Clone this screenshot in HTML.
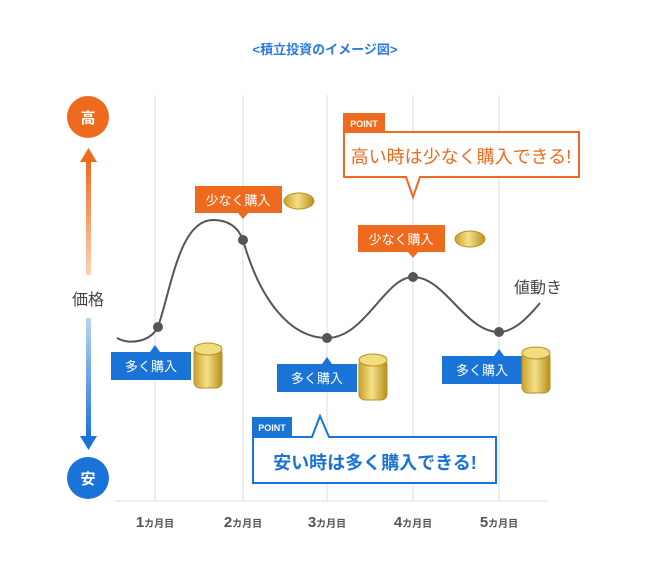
<!DOCTYPE html><html><head><meta charset="utf-8"><style>body{margin:0;background:#fff}svg{display:block}text{font-family:"Liberation Sans","Noto Sans CJK JP",sans-serif}</style></head><body>
<svg width="650" height="564" viewBox="0 0 650 564">
<defs>
<linearGradient id="go" x1="0" y1="0" x2="0" y2="1"><stop offset="0" stop-color="#ee6a1e"/><stop offset="1" stop-color="#fbd3b5"/></linearGradient>
<linearGradient id="gb" x1="0" y1="0" x2="0" y2="1"><stop offset="0" stop-color="#b7d6f5"/><stop offset="1" stop-color="#1a73d6"/></linearGradient>
<linearGradient id="gc" x1="0" y1="0" x2="1" y2="0"><stop offset="0" stop-color="#c9a227"/><stop offset=".45" stop-color="#f4e08a"/><stop offset="1" stop-color="#b8901c"/></linearGradient>
</defs>
<text x="325" y="54" font-size="13" font-weight="bold" fill="#2a7be0" text-anchor="middle">&lt;積立投資のイメージ図&gt;</text>
<g stroke="#e3e3e3" stroke-width="1.2">
<line x1="155" y1="95" x2="155" y2="501"/><line x1="243" y1="95" x2="243" y2="501"/><line x1="327" y1="95" x2="327" y2="501"/><line x1="413" y1="95" x2="413" y2="501"/><line x1="499" y1="95" x2="499" y2="501"/>
<line x1="115" y1="501" x2="548" y2="501"/></g>
<circle cx="88" cy="117" r="21" fill="#ee6a1e"/><text x="88" y="123" font-size="15" fill="#fff" text-anchor="middle" font-weight="bold">高</text>
<rect x="86" y="160" width="5" height="115" fill="url(#go)"/><polygon points="80,162 97,162 88.5,148" fill="#ee6a1e"/>
<text x="88" y="305" font-size="16" fill="#444" text-anchor="middle">価格</text>
<rect x="86" y="318" width="5" height="120" fill="url(#gb)"/><polygon points="80,436 97,436 88.5,450" fill="#1a73d6"/>
<circle cx="88" cy="478" r="21" fill="#1a73d6"/><text x="88" y="484" font-size="15" fill="#fff" text-anchor="middle" font-weight="bold">安</text>
<path d="M117,338 C130,345 150,342 158,327 C172,285 180,220 213,220 C233,220 240,232 243,240 C260,300 290,338 327,338 C365,338 385,277 413,277 C445,277 465,332 499,332 C515,332 530,315 540,303" fill="none" stroke="#555" stroke-width="2"/>
<g fill="#555"><circle cx="158" cy="327" r="5"/><circle cx="243" cy="240" r="5"/><circle cx="327" cy="338" r="5"/><circle cx="413" cy="277" r="5"/><circle cx="499" cy="332" r="5"/></g>
<text x="538" y="293" font-size="16" fill="#444" text-anchor="middle">値動き</text>
<rect x="195" y="186" width="87" height="27" fill="#ee6a1e"/><polygon points="238,213 248,213 243,219" fill="#ee6a1e"/>
<text x="238" y="205" font-size="13" fill="#fff" text-anchor="middle">少なく購入</text>
<ellipse cx="299" cy="201" rx="15" ry="8" fill="url(#gc)" stroke="#b8901c"/>
<rect x="358" y="225" width="87" height="27" fill="#ee6a1e"/><polygon points="408,252 418,252 413,258" fill="#ee6a1e"/>
<text x="401" y="244" font-size="13" fill="#fff" text-anchor="middle">少なく購入</text>
<ellipse cx="470" cy="239" rx="15" ry="8" fill="url(#gc)" stroke="#b8901c"/>
<g fill="#1a73d6">
<rect x="111" y="352" width="80" height="28"/><polygon points="150,352 160,352 155,345"/>
<rect x="277" y="364" width="80" height="28"/><polygon points="322,364 332,364 327,357"/>
<rect x="442" y="356" width="80" height="28"/><polygon points="494,356 504,356 499,349"/></g>
<g font-size="13" fill="#fff" text-anchor="middle"><text x="151" y="371">多く購入</text><text x="317" y="383">多く購入</text><text x="482" y="375">多く購入</text></g>
<g stroke="#b8901c" stroke-width="1">
<rect x="194" y="348" width="28" height="40" rx="6" fill="url(#gc)"/><ellipse cx="208" cy="349" rx="14" ry="6" fill="#f2dc80"/>
<rect x="359" y="359" width="28" height="41" rx="6" fill="url(#gc)"/><ellipse cx="373" cy="360" rx="14" ry="6" fill="#f2dc80"/>
<rect x="522" y="352" width="28" height="41" rx="6" fill="url(#gc)"/><ellipse cx="536" cy="353" rx="14" ry="6" fill="#f2dc80"/></g>
<rect x="343" y="113" width="42" height="19" fill="#ee6a1e"/><text x="364" y="127" font-size="9" font-weight="bold" fill="#fff" text-anchor="middle">POINT</text>
<path d="M344,132 H579 V177 H420 L413,197 L406,177 H344 Z" fill="#fff" stroke="#ee6a1e" stroke-width="2"/>
<text x="461" y="163" font-size="18" fill="#ee6a1e" text-anchor="middle">高い時は少なく購入できる!</text>
<rect x="252" y="417" width="40" height="19" fill="#1a73d6"/><text x="272" y="431" font-size="9" font-weight="bold" fill="#fff" text-anchor="middle">POINT</text>
<path d="M253,437 H312 L320,416 L329,437 H496 V483 H253 Z" fill="#fff" stroke="#1a73d6" stroke-width="2"/>
<text x="375" y="469" font-size="18" font-weight="bold" fill="#1a73d6" text-anchor="middle">安い時は多く購入できる!</text>
<g fill="#555" font-weight="bold" text-anchor="middle">
<text x="155" y="527"><tspan font-size="15">1</tspan><tspan font-size="10">カ月目</tspan></text>
<text x="243" y="527"><tspan font-size="15">2</tspan><tspan font-size="10">カ月目</tspan></text>
<text x="327" y="527"><tspan font-size="15">3</tspan><tspan font-size="10">カ月目</tspan></text>
<text x="413" y="527"><tspan font-size="15">4</tspan><tspan font-size="10">カ月目</tspan></text>
<text x="499" y="527"><tspan font-size="15">5</tspan><tspan font-size="10">カ月目</tspan></text></g>
</svg></body></html>
